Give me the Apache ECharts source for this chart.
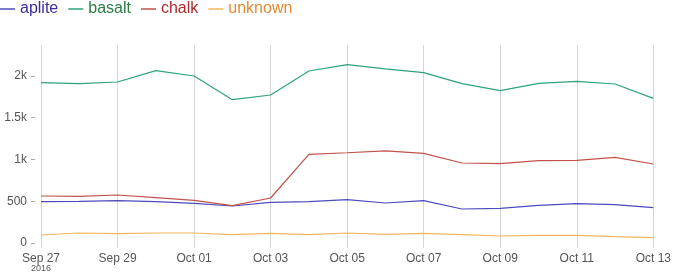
<!DOCTYPE html>
<html><head><meta charset="utf-8">
<script src="https://cdn.jsdelivr.net/npm/echarts@6/dist/echarts.min.js"></script>
<style>html,body{margin:0;padding:0;background:#fff}#c{width:674px;height:276px}</style>
</head><body><div id="c"></div>
<script>
var dates = ['Sep 27','Sep 28','Sep 29','Sep 30','Oct 01','Oct 02','Oct 03','Oct 04','Oct 05','Oct 06','Oct 07','Oct 08','Oct 09','Oct 10','Oct 11','Oct 12','Oct 13'];
var aplite  = [495,499,507,495,475,443,487,495,519,479,507,407,415,451,471,459,423];
var basalt  = [1920,1908,1928,2064,2000,1716,1772,2060,2135,2084,2040,1908,1824,1912,1936,1904,1732];
var chalk   = [563,559,575,543,511,447,539,1062,1081,1102,1074,958,950,986,990,1026,946];
var unknown = [96,120,112,120,120,100,116,100,120,104,116,100,84,92,92,76,64];
var yTicks = [0,500,1000,1500,2000];

var names = ['aplite','basalt','chalk','unknown'];
var lineColors = ['#4b4bbd','#2ea37a','#c2524a','#f2b65a'];
var textColors = ['#3a2d9e','#2b7d44','#b3282d','#e38b33'];
var values = [aplite, basalt, chalk, unknown];

var chart = echarts.init(document.getElementById('c'));
chart.setOption({
  animation:false,
  textStyle:{fontFamily:'Liberation Sans, Arial, sans-serif'},
  legend:{
    left:0, top:1, padding:0, itemWidth:15, itemHeight:1.5, itemGap:10, icon:'rect',
    textStyle:{fontSize:16, fontFamily:'Liberation Sans, Arial, sans-serif'},
    data: names.map(function(n,i){return {name:n, textStyle:{color:textColors[i]}};})
  },
  grid:{left:41,right:17,top:45,bottom:33},
  xAxis:{
    type:'category', data:dates, boundaryGap:false,
    axisLine:{show:false},
    axisTick:{show:true, length:5, interval:1, lineStyle:{color:'#d6d6d6'}},
    splitLine:{show:true, interval:1, lineStyle:{color:'#d6d6d6', width:1}},
    axisLabel:{
      interval:1, margin:10, color:'#555', fontSize:12,
      formatter:function(v,idx){ return idx===0 ? v+'\n{y|2016}' : v; },
      rich:{y:{fontSize:9, color:'#555', lineHeight:8}}
    }
  },
  yAxis:{
    type:'value', min:0, max:2371, interval:500, offset:6,
    axisLine:{show:false},
    axisTick:{show:true, length:4, lineStyle:{color:'#aaa'}},
    splitLine:{show:false},
    axisLabel:{margin:8, color:'#555', fontSize:12, showMaxLabel:false,
      formatter:function(v){ if(yTicks.indexOf(v)<0) return ''; return v>=1000 ? (v/1000)+'k' : String(v); }}
  },
  series: names.map(function(n,i){
    return {name:n, type:'line', data:values[i], symbol:'none', smooth:false,
      lineStyle:{color:lineColors[i], width:1.2}, itemStyle:{color:lineColors[i]}};
  })
});
</script></body></html>
